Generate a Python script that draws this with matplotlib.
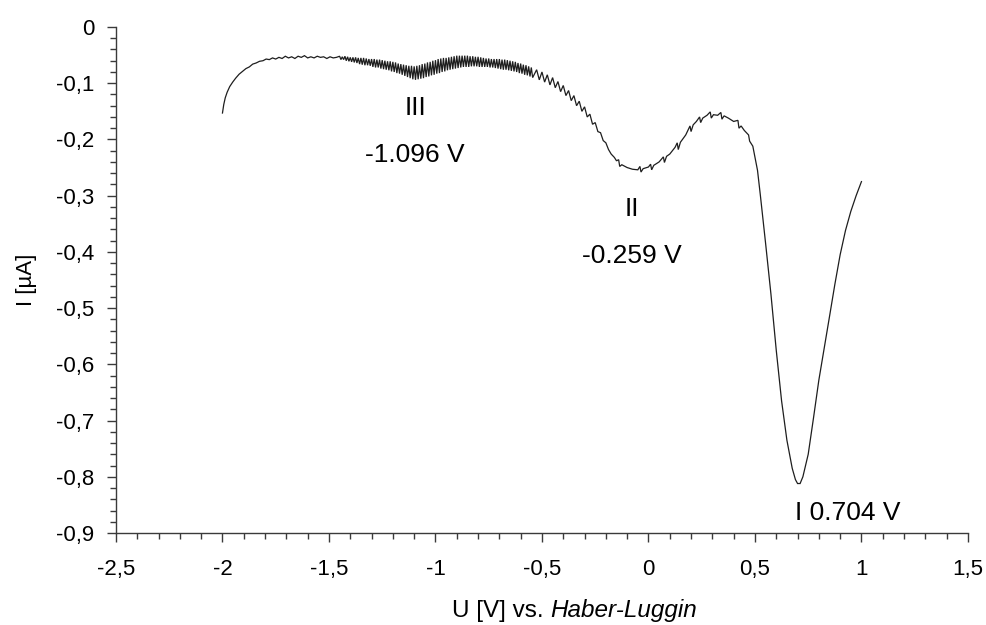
import numpy as np
import matplotlib
matplotlib.use("Agg")
import matplotlib.pyplot as plt
from matplotlib.ticker import MultipleLocator, FuncFormatter

plt.rcParams["font.family"] = ["Liberation Sans", "DejaVu Sans"]

# --- Voltammogram data: potential U [V] vs. current I [uA] ---
# Cathodic onset and plateau (-2.0 .. -1.46 V)
u_start = [-2.000, -1.994, -1.987, -1.978, -1.966, -1.952, -1.938, -1.922, -1.906,
           -1.890, -1.874, -1.858, -1.842, -1.826, -1.810, -1.795, -1.780, -1.765,
           -1.750, -1.735, -1.720, -1.705, -1.690, -1.675, -1.660, -1.645, -1.630,
           -1.615, -1.600, -1.585, -1.570, -1.555, -1.540, -1.525, -1.510, -1.495,
           -1.480, -1.465]
i_start = [-0.153, -0.138, -0.126, -0.116, -0.106, -0.098, -0.091, -0.084, -0.079,
           -0.074, -0.071, -0.066, -0.064, -0.061, -0.060, -0.057, -0.058, -0.055,
           -0.057, -0.054, -0.056, -0.052, -0.055, -0.053, -0.056, -0.052, -0.054,
           -0.051, -0.055, -0.053, -0.055, -0.052, -0.054, -0.053, -0.056, -0.053,
           -0.055, -0.054]

# Strongly oscillating section around peak III (-1.45 .. -0.55 V, 12.5 mV steps):
# upper and lower excursions of the current
dense_first, dense_last, dense_step = -1.45, -0.55, 0.0125
i_dense_upper = [-0.052, -0.053, -0.052, -0.053, -0.054, -0.054, -0.054, -0.055, -0.055,
                 -0.055, -0.056, -0.057, -0.057, -0.057, -0.058, -0.058, -0.059, -0.060,
                 -0.061, -0.061, -0.062, -0.063, -0.065, -0.066, -0.067, -0.068, -0.069,
                 -0.069, -0.070, -0.069, -0.068, -0.066, -0.065, -0.063, -0.062, -0.060,
                 -0.059, -0.057, -0.056, -0.055, -0.055, -0.054, -0.053, -0.052, -0.051,
                 -0.051, -0.051, -0.051, -0.051, -0.052, -0.052, -0.053, -0.053, -0.054,
                 -0.055, -0.056, -0.056, -0.057, -0.057, -0.057, -0.057, -0.058, -0.058,
                 -0.059, -0.060, -0.061, -0.062, -0.064, -0.065, -0.067, -0.068, -0.070,
                 -0.072]
i_dense_lower = [-0.058, -0.058, -0.060, -0.061, -0.062, -0.063, -0.064, -0.066, -0.067,
                 -0.068, -0.068, -0.069, -0.071, -0.072, -0.072, -0.074, -0.075, -0.076,
                 -0.077, -0.079, -0.080, -0.082, -0.083, -0.085, -0.087, -0.089, -0.091,
                 -0.093, -0.094, -0.093, -0.092, -0.091, -0.089, -0.088, -0.086, -0.085,
                 -0.083, -0.082, -0.080, -0.079, -0.077, -0.076, -0.075, -0.074, -0.073,
                 -0.072, -0.071, -0.071, -0.071, -0.070, -0.070, -0.070, -0.071, -0.071,
                 -0.071, -0.071, -0.072, -0.072, -0.073, -0.074, -0.075, -0.076, -0.076,
                 -0.077, -0.078, -0.079, -0.080, -0.082, -0.083, -0.085, -0.086, -0.088,
                 -0.090]

# Falling flank towards peak II (-0.525 .. -0.20 V, 25 mV steps)
sparse_first, sparse_last, sparse_step = -0.525, -0.20, 0.025
i_sparse_upper = [-0.076, -0.080, -0.085, -0.090, -0.097, -0.104, -0.113, -0.122,
                  -0.132, -0.142, -0.155, -0.170, -0.188, -0.206]
i_sparse_lower = [-0.094, -0.098, -0.103, -0.108, -0.115, -0.122, -0.131, -0.140,
                  -0.150, -0.160, -0.173, -0.186, -0.202, -0.218]

# Peak II, hump and peak I (-0.19 .. 1.0 V)
u_end = [-0.175, -0.160, -0.150, -0.140, -0.135, -0.125, -0.100, -0.075, -0.050,
         -0.040, -0.035, -0.025, 0.000, 0.010, 0.015, 0.025, 0.050, 0.070, 0.075,
         0.085, 0.100, 0.125, 0.135, 0.140, 0.150, 0.175, 0.195, 0.200, 0.210,
         0.225, 0.240, 0.245, 0.255, 0.275, 0.290, 0.295, 0.305, 0.325, 0.340,
         0.345, 0.355, 0.375, 0.400, 0.420, 0.425, 0.435, 0.450, 0.470, 0.475,
         0.490, 0.500, 0.512, 0.515, 0.525, 0.550, 0.575, 0.600, 0.625, 0.650,
         0.675, 0.690, 0.700, 0.712, 0.725, 0.750, 0.775, 0.800, 0.825, 0.850,
         0.875, 0.900, 0.925, 0.950, 0.975, 1.000]
i_end = [-0.226, -0.232, -0.238, -0.236, -0.248, -0.245, -0.250, -0.253, -0.254,
         -0.248, -0.258, -0.252, -0.249, -0.244, -0.254, -0.246, -0.240, -0.231, -0.241,
         -0.230, -0.226, -0.214, -0.206, -0.218, -0.205, -0.192, -0.176, -0.186, -0.174,
         -0.168, -0.160, -0.170, -0.162, -0.157, -0.151, -0.162, -0.156, -0.157, -0.152,
         -0.164, -0.158, -0.162, -0.168, -0.166, -0.180, -0.176, -0.184, -0.192, -0.203,
         -0.212, -0.232, -0.255, -0.265, -0.298, -0.385, -0.475, -0.575, -0.665, -0.735,
         -0.785, -0.805, -0.812, -0.812, -0.800, -0.760, -0.695, -0.628, -0.572, -0.515,
         -0.458, -0.405, -0.362, -0.328, -0.300, -0.275]

# Peak annotations
peak_labels = [("III", "-1.096 V"), ("II", "-0.259 V")]
peak_label_pos = [(-1.096, -0.156, -0.240), (-0.078, -0.336, -0.420)]
peak_one_text = "I 0.704 V"
peak_one_pos = (0.934, -0.877)


def zigzag(first, last, step, upper, lower):
    """Interleave upper/lower excursions, each lower one half a step later."""
    u_up = np.linspace(first, last, len(upper))
    u_zz = np.ravel(np.column_stack([u_up, u_up + step / 2]))
    i_zz = np.ravel(np.column_stack([upper, lower]))
    return u_zz, i_zz


u_dense, i_dense = zigzag(dense_first, dense_last, dense_step, i_dense_upper, i_dense_lower)
u_sparse, i_sparse = zigzag(sparse_first, sparse_last, sparse_step, i_sparse_upper, i_sparse_lower)
u = np.concatenate([u_start, u_dense, u_sparse, u_end])
i = np.concatenate([i_start, i_dense, i_sparse, i_end])

fig = plt.figure(figsize=(9.87, 6.25), dpi=100)
ax = fig.add_axes([0.1175, 0.1472, 0.8632, 0.8096])

ax.plot(u, i, color="#1e1e1e", lw=0.9, solid_joinstyle="miter")

ax.set_xlim(-2.5, 1.5)
ax.set_ylim(-0.9, 0.0)

axis_color = "#3a3a3a"
for side in ("top", "right"):
    ax.spines[side].set_visible(False)
for side in ("left", "bottom"):
    ax.spines[side].set_color(axis_color)
    ax.spines[side].set_linewidth(1.0)

ax.xaxis.set_major_locator(MultipleLocator(0.5))
ax.xaxis.set_minor_locator(MultipleLocator(0.1))
ax.yaxis.set_major_locator(MultipleLocator(0.1))
ax.yaxis.set_minor_locator(MultipleLocator(0.02))


def comma_fmt(v, pos):
    v = round(v, 3)
    if v == 0:
        return "0"
    return "{:g}".format(v).replace(".", ",")


ax.xaxis.set_major_formatter(FuncFormatter(comma_fmt))
ax.yaxis.set_major_formatter(FuncFormatter(comma_fmt))

ax.tick_params(axis="both", which="major", direction="out", length=6.5, width=1.0,
               color=axis_color, labelsize=16, labelcolor="black")
ax.tick_params(axis="both", which="minor", direction="out", length=4.5, width=1.0,
               color=axis_color)
ax.tick_params(axis="x", which="major", pad=12)
ax.tick_params(axis="y", which="major", pad=9)

ax.set_ylabel("I [\u00b5A]", fontsize=16, labelpad=14)

# x-axis label with the italic reference-electrode name
t1 = fig.text(0.458, 0.012, "U [V] vs. ", fontsize=17.5, ha="left", va="baseline")
ax.annotate("Haber-Luggin", xy=(1, 0), xycoords=t1, fontsize=17.5, style="italic",
            ha="left", va="bottom", annotation_clip=False)

for (name, pot), (x, y1, y2) in zip(peak_labels, peak_label_pos):
    ax.text(x, y1, name, fontsize=19, ha="center", va="baseline")
    ax.text(x, y2, pot, fontsize=19, ha="center", va="baseline")
ax.text(peak_one_pos[0], peak_one_pos[1], peak_one_text, fontsize=19,
        ha="center", va="baseline")

fig.savefig("out.png", dpi=100)
